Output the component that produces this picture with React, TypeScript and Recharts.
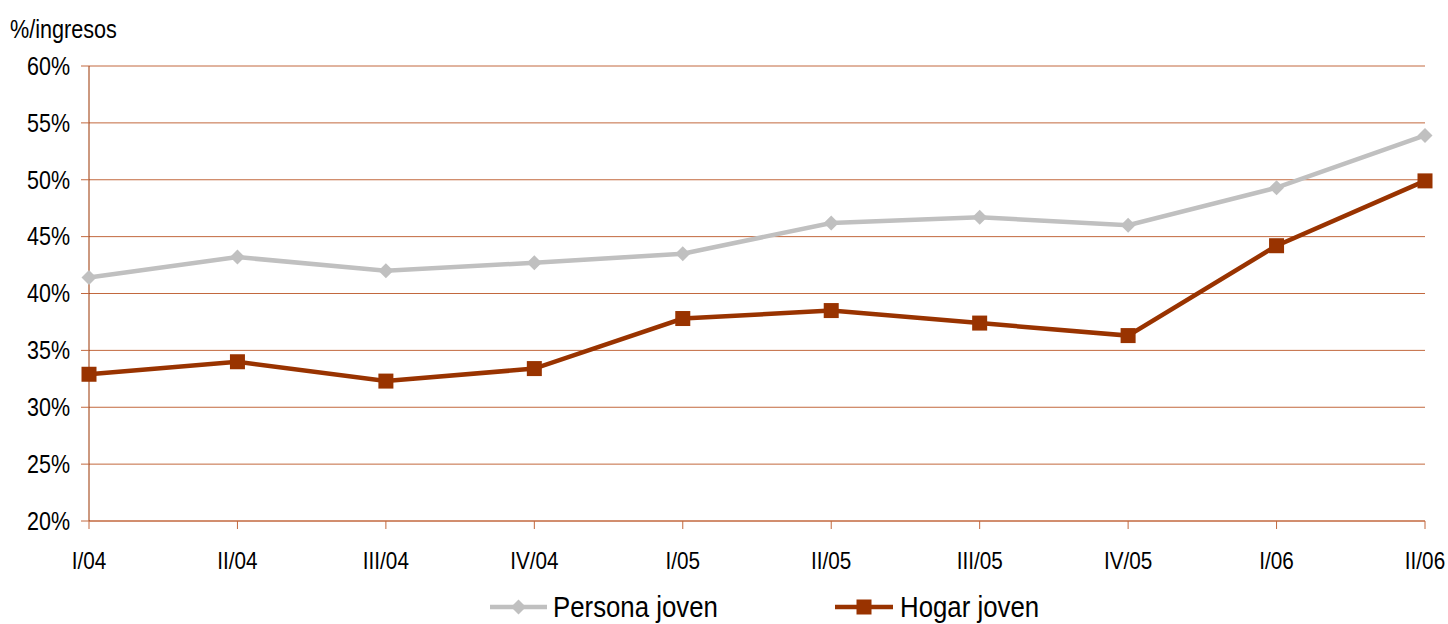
import React from "react";
import { LineChart, Line, XAxis, YAxis, CartesianGrid } from "recharts";

const categories = ["I/04", "II/04", "III/04", "IV/04", "I/05", "II/05", "III/05", "IV/05", "I/06", "II/06"];
const personaJoven = [41.4, 43.2, 42.0, 42.7, 43.5, 46.2, 46.7, 46.0, 49.3, 53.9];
const hogarJoven = [32.9, 34.0, 32.3, 33.4, 37.8, 38.5, 37.4, 36.3, 44.2, 49.9];
const yTicks = [20, 25, 30, 35, 40, 45, 50, 55, 60];
const seriesNames = ["Persona joven", "Hogar joven"];
const yAxisTitle = "%/ingresos";

const data = categories.map((c, i) => ({ cat: c, persona: personaJoven[i], hogar: hogarJoven[i] }));

const FONT = "'Liberation Sans', Arial, sans-serif";
const GRAY = "#C0C0C0";
const RED = "#993300";
const GRID = "#C2683E";
const AXIS = "#993300";

const Diamond = (props: any) => {
  const { cx, cy } = props;
  if (cx == null || cy == null) return null;
  const r = 7.5;
  return <path d={`M${cx},${cy - r}L${cx + r},${cy}L${cx},${cy + r}L${cx - r},${cy}Z`} fill={GRAY} />;
};

const Square = (props: any) => {
  const { cx, cy } = props;
  if (cx == null || cy == null) return null;
  const s = 7.5;
  return <rect x={cx - s} y={cy - s} width={2 * s} height={2 * s} fill={RED} />;
};

const YTick = (props: any) => {
  const { x, y, payload } = props;
  return (
    <g transform={`translate(${x},${y})`}>
      <text transform="scale(0.86,1)" textAnchor="end" dy="0.35em" fontSize={25} fontFamily={FONT} fill="#000">
        {`${payload.value}%`}
      </text>
    </g>
  );
};

const XTick = (props: any) => {
  const { x, y, payload } = props;
  return (
    <g transform={`translate(${x},${y})`}>
      <text transform="scale(0.9,1)" textAnchor="middle" dy="0.71em" fontSize={23} fontFamily={FONT} fill="#000">
        {payload.value}
      </text>
    </g>
  );
};

export default function App() {
  return (
    <div style={{ position: "absolute", left: 0, top: 0, width: 1448, height: 624, background: "#fff", fontFamily: FONT }}>
      <LineChart width={1448} height={624} data={data} margin={{ top: 66, right: 23, bottom: 63, left: 0 }}>
        <CartesianGrid vertical={false} stroke={GRID} strokeWidth={1} />
        <XAxis
          dataKey="cat"
          height={40}
          axisLine={{ stroke: GRID }}
          tickLine={{ stroke: GRID }}
          tickSize={8}
          tickMargin={24}
          tick={<XTick />}
          interval={0}
        />
        <YAxis
          width={89}
          domain={[20, 60]}
          ticks={yTicks}
          interval={0}
          axisLine={{ stroke: AXIS }}
          tickLine={{ stroke: GRID }}
          tickSize={8}
          tickMargin={11}
          tick={<YTick />}
        />
        <Line dataKey="persona" name={seriesNames[0]} stroke={GRAY} strokeWidth={4.5} dot={<Diamond />} isAnimationActive={false} />
        <Line dataKey="hogar" name={seriesNames[1]} stroke={RED} strokeWidth={4.5} dot={<Square />} isAnimationActive={false} />
      </LineChart>
      <svg width={1448} height={624} style={{ position: "absolute", left: 0, top: 0, pointerEvents: "none" }}>
        <g transform="translate(10,38)">
          <text transform="scale(0.865,1)" fontSize={25} fontFamily={FONT} fill="#000">{yAxisTitle}</text>
        </g>
        <line x1={490} y1={607} x2={547} y2={607} stroke={GRAY} strokeWidth={4.5} />
        <path d="M518.5,599.5L526,607L518.5,614.5L511,607Z" fill={GRAY} />
        <g transform="translate(553,617)">
          <text transform="scale(0.86,1)" fontSize={30} fontFamily={FONT} fill="#000">{seriesNames[0]}</text>
        </g>
        <line x1={835} y1={607} x2={893} y2={607} stroke={RED} strokeWidth={4.5} />
        <rect x={856.5} y={599.5} width={15} height={15} fill={RED} />
        <g transform="translate(900,617)">
          <text transform="scale(0.86,1)" fontSize={30} fontFamily={FONT} fill="#000">{seriesNames[1]}</text>
        </g>
      </svg>
    </div>
  );
}
